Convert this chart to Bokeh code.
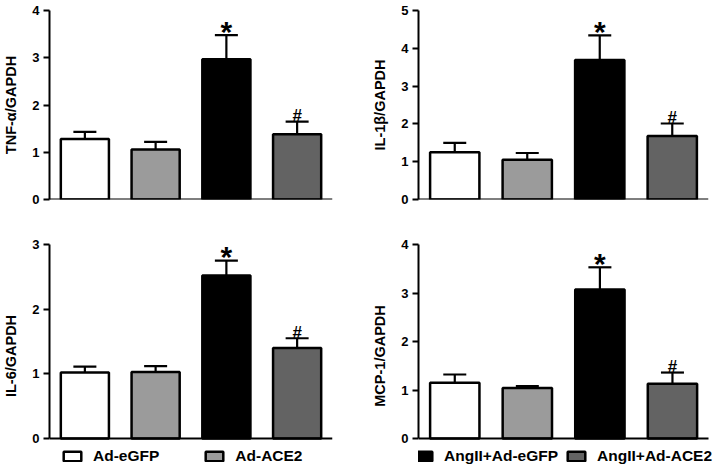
from bokeh.plotting import figure
from bokeh.models import (ColumnDataSource, Whisker, TeeHead, Range1d,
                          Legend, LegendItem, FixedTicker)
from bokeh.layouts import column, row
from bokeh.embed import file_html
from bokeh.resources import INLINE
from bokeh.core.properties import value

# ---------------- data ----------------
categories = ["Ad-eGFP", "Ad-ACE2", "AngII+Ad-eGFP", "AngII+Ad-ACE2"]
bar_colors = ["#ffffff", "#9b9b9b", "#000000", "#636363"]
marks = ["", "", "*", "#"]

tnf_mean = [1.28, 1.06, 2.97, 1.38]
tnf_err = [0.15, 0.16, 0.51, 0.27]
il1b_mean = [1.25, 1.05, 3.69, 1.68]
il1b_err = [0.25, 0.18, 0.65, 0.33]
il6_mean = [1.02, 1.03, 2.52, 1.40]
il6_err = [0.09, 0.09, 0.23, 0.15]
mcp1_mean = [1.15, 1.04, 3.07, 1.13]
mcp1_err = [0.17, 0.04, 0.46, 0.23]

FONT = "Liberation Sans"
N = len(categories)


def panel(means, errs, ymax, ylabel, width, height, bl, br, bt, bb,
          below_px=0, right_px=0, plot_h=1, plot_w=1):
    # below_px / right_px: frame room kept beyond the data area (for the legend)
    ymin = -below_px * ymax / plot_h
    xmax = N - 0.5 + right_px * N / plot_w
    p = figure(x_range=Range1d(-0.5, xmax), y_range=Range1d(ymin, ymax),
               width=width, height=height, output_backend="svg",
               toolbar_location=None, min_border_left=bl, min_border_right=br,
               min_border_top=bt, min_border_bottom=bb)
    p.outline_line_color = None
    p.grid.visible = False
    p.background_fill_color = "white"
    xs_all = list(range(N))
    upper = [m + e for m, e in zip(means, errs)]
    src = ColumnDataSource(dict(x=xs_all, top=means, upper=upper, color=bar_colors,
                                name=categories))
    w = Whisker(base="x", lower="top", upper="upper", source=src,
                line_color="black", line_width=2.2,
                upper_head=TeeHead(size=23, line_color="black", line_width=2.2),
                lower_head=None, level="underlay")
    p.add_layout(w)
    r = p.vbar(x="x", top="top", width=0.68, source=src, fill_color="color",
               line_color="black", line_width=2.5)
    for sym, size, off in (("*", "30px", -4), ("#", "17px", -6)):
        xs = [x for x, m in zip(xs_all, marks) if m == sym]
        ys = [u for u, m in zip(upper, marks) if m == sym]
        p.text(x=xs, y=ys, text=[sym] * len(xs), text_align="center",
               text_baseline="alphabetic", y_offset=off, text_font_size=size,
               text_font=value(FONT), text_font_style="bold", text_color="black")
    # axes
    ya = p.yaxis[0]
    ya.ticker = FixedTicker(ticks=list(range(0, ymax + 1)))
    ya.bounds = (0, ymax)
    ya.minor_tick_line_color = None
    ya.major_tick_in = 0
    ya.major_tick_out = 6
    ya.major_tick_line_width = 2
    ya.axis_line_width = 2
    ya.major_label_text_font = FONT
    ya.major_label_text_font_style = "bold"
    ya.major_label_text_font_size = "13px"
    ya.major_label_text_color = "black"
    ya.major_label_standoff = 4
    ya.axis_label = ylabel
    ya.axis_label_text_font = FONT
    ya.axis_label_text_font_style = "bold"
    ya.axis_label_text_font_size = "14.5px"
    ya.axis_label_text_color = "black"
    ya.axis_label_standoff = 10
    xa = p.xaxis[0]
    xa.fixed_location = 0
    xa.bounds = (-0.5, N - 0.5)
    xa.ticker = FixedTicker(ticks=[])
    xa.major_tick_line_color = None
    xa.minor_tick_line_color = None
    xa.major_label_text_font_size = "0px"
    xa.axis_line_width = 2
    return p, r


# geometry (figure pixels)
LW, RW = 369, 351
TOP_H = 222
BOT_H = 467 - TOP_H
p1, r1 = panel(tnf_mean, tnf_err, 4, "TNF-\u03b1/GAPDH", LW, TOP_H, 43, 37, 10, 19)
p2, r2 = panel(il1b_mean, il1b_err, 5, "IL-1\u03b2/GAPDH", RW, TOP_H, 43, 12, 6, 23)
# bottom frames run to the canvas bottom (zero sits 29 px above it); the right
# one also runs to the right edge so that its legend is not clipped
p3, r3 = panel(il6_mean, il6_err, 3, "IL-6/GAPDH", LW, BOT_H, 43, 37, 244 - TOP_H, 0,
               below_px=29, plot_h=194)
p4, r4 = panel(mcp1_mean, mcp1_err, 4, "MCP-1/GAPDH", RW, BOT_H, 43, 0, 244 - TOP_H, 0,
               below_px=29, right_px=12, plot_h=194, plot_w=296)


def add_legend(p, r, idxs, loc, spacing):
    items = [LegendItem(label=categories[i], renderers=[r], index=i) for i in idxs]
    lg = Legend(items=items, location=loc, orientation="horizontal",
                glyph_width=22, glyph_height=12, label_standoff=10,
                spacing=spacing, padding=0, margin=0,
                label_text_font=FONT, label_text_font_style="bold",
                label_text_font_size="15.5px", label_text_color="black",
                border_line_alpha=0, background_fill_alpha=0,
                label_height=14)
    p.add_layout(lg, "center")


add_legend(p3, r3, [0, 1], (12, 2), 44)
add_legend(p4, r4, [2, 3], (-6, 2), 7)

layout = column(row(p1, p2, spacing=0), row(p3, p4, spacing=0), spacing=0)

open("out.html", "w").write(file_html(layout, INLINE))
